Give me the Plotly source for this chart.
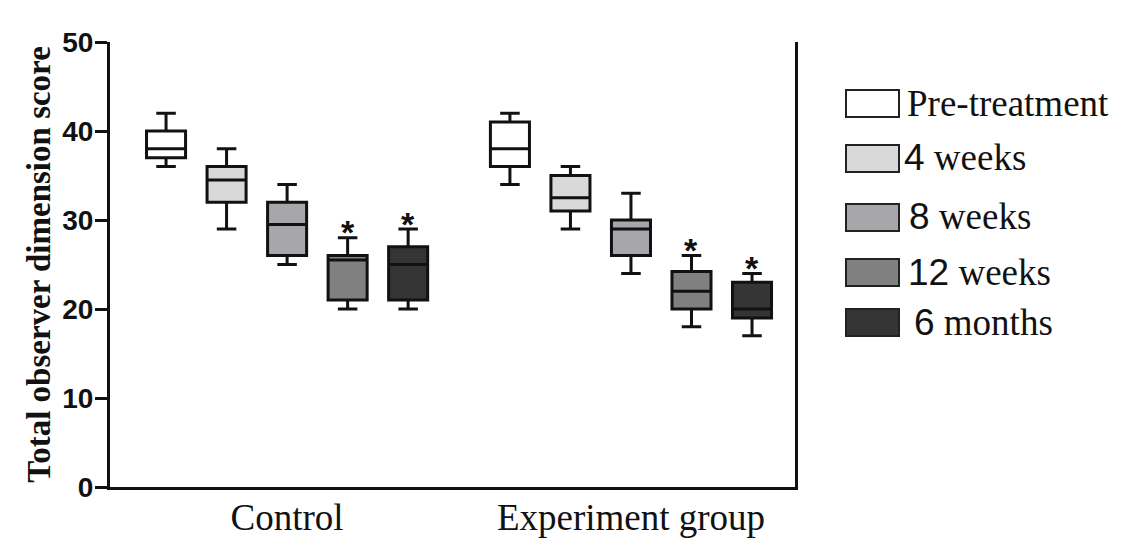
import plotly.graph_objects as go

# groups on the x axis and the five time points
groups = ["Control", "Experiment group"]
timepoints = ["Pre-treatment", "4 weeks", "8 weeks", "12 weeks", "6 months"]
legend_labels = [
    "Pre-treatment",
    "<span style='font-family:Liberation Sans'>4</span> weeks",
    "<span style='font-family:Liberation Sans'>8</span> weeks",
    "<span style='font-family:Liberation Sans'>12</span> weeks",
    "<span style='font-family:Liberation Sans'>6</span> months",
]

# box statistics per time point: [Control, Experiment group]
lower_fence = [[36, 34], [29, 29], [25, 24], [20, 18], [20, 17]]
q1 = [[37, 36], [32, 31], [26, 26], [21, 20], [21, 19]]
median = [[38, 38], [34.5, 32.5], [29.5, 29], [25.5, 22], [25, 20]]
q3 = [[40, 41], [36, 35], [32, 30], [26, 24.2], [27, 23]]
upper_fence = [[42, 42], [38, 36], [34, 33], [28, 26], [29, 24]]

# time points marked as significant
significant = ["12 weeks", "6 months"]

colors = ["#ffffff", "#d9d9d9", "#a7a7ab", "#808080", "#353535"]

W, H = 1123, 554
OFF = 8  # page body margin in the browser
L, R, T, B = 110, 328, 42, 67  # where the plot area should sit on screen
boxgap = 0.12
boxgroupgap = 0.355

fig = go.Figure()
for i, tp in enumerate(timepoints):
    fig.add_trace(go.Box(
        name=tp,
        x=groups,
        q1=q1[i], median=median[i], q3=q3[i],
        lowerfence=lower_fence[i], upperfence=upper_fence[i],
        fillcolor=colors[i],
        line=dict(color="#111111", width=3),
        whiskerwidth=0.5,
        showlegend=False,
    ))

# asterisks above the significant boxes
n = len(timepoints)
slot = (1 - boxgap) / n
annotations = []
for i, tp in enumerate(timepoints):
    if tp not in significant:
        continue
    for g in range(len(groups)):
        annotations.append(dict(
            x=g + (i - (n - 1) / 2) * slot, y=upper_fence[i][g] + 0.6,
            xref="x", yref="y", text="<b>*</b>", showarrow=False,
            yanchor="middle",
            font=dict(family="Liberation Sans", size=34, color="#111111"),
        ))

# legend drawn by hand so the swatches match the large boxes of the original
pw, ph = W - L - R, H - T - B
def px(xp):
    return (xp - L) / pw
def py(yp):
    return (H - B - yp) / ph

row_y = [103, 158, 217, 272, 322]
text_x = [905, 902, 907, 906, 912]
shapes = []
for i, lab in enumerate(legend_labels):
    shapes.append(dict(
        type="rect", xref="paper", yref="paper",
        x0=px(846), x1=px(899), y0=py(row_y[i] - 13), y1=py(row_y[i] + 14),
        fillcolor=colors[i], line=dict(color="#222222", width=2),
    ))
    annotations.append(dict(
        x=px(text_x[i]), y=py(row_y[i]), xref="paper", yref="paper",
        text=lab, showarrow=False, xanchor="left", yanchor="middle",
        font=dict(family="Liberation Serif", size=37, color="#111111"),
    ))

fig.update_layout(
    width=W, height=H,
    margin=dict(l=L - OFF, r=R + OFF, t=T - OFF, b=B + OFF),
    paper_bgcolor="white", plot_bgcolor="white",
    boxmode="group", boxgap=boxgap, boxgroupgap=boxgroupgap,
    showlegend=False,
    shapes=shapes, annotations=annotations,
    xaxis=dict(
        type="category", range=[-0.515, 1.477], automargin=False,
        showline=True, linecolor="#111111", linewidth=3,
        showgrid=False, ticks="", ticklabelstandoff=-4,
        tickfont=dict(family="Liberation Serif", size=37, color="#111111"),
    ),
    yaxis=dict(
        range=[0, 50], tickvals=[0, 10, 20, 30, 40, 50], automargin=False,
        showline=True, linecolor="#111111", linewidth=3, mirror=True,
        showgrid=False, zeroline=False,
        ticks="outside", ticklen=12, tickwidth=3, tickcolor="#111111",
        ticklabelstandoff=-4,
        tickfont=dict(family="Liberation Sans", size=28, color="#111111", weight="bold"),
        title=dict(
            text="<b>Total observer dimension score</b>", standoff=2,
            font=dict(family="Liberation Serif", size=33, color="#111111"),
        ),
    ),
)

fig.write_html("out.html")
